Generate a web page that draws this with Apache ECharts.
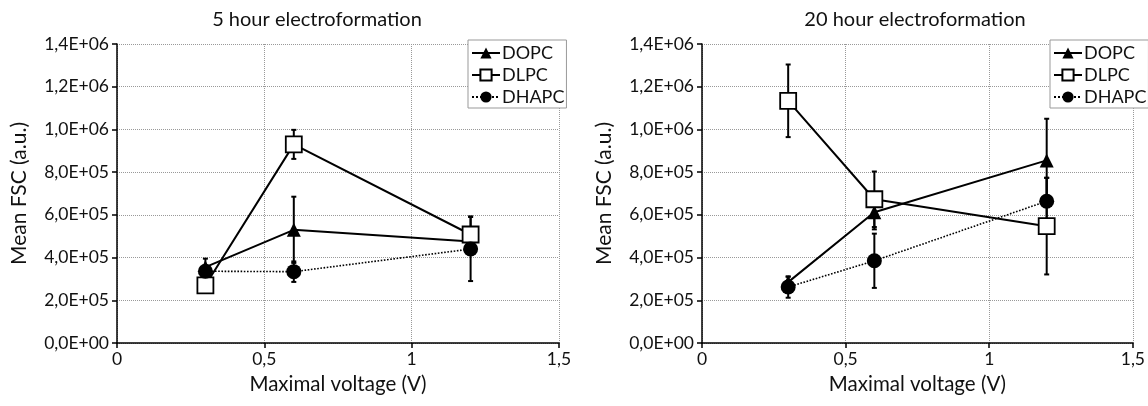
<!DOCTYPE html>
<html>
<head>
<meta charset="utf-8">
<script src="https://cdn.jsdelivr.net/npm/echarts@6/dist/echarts.min.js"></script>
<style>html,body{margin:0;padding:0;background:#fff}#c{width:1148px;height:406px}</style>
</head>
<body>
<div id="c"></div>
<script>
// ---- data ----
const voltages = [0.3, 0.6, 1.2];
const seriesNames = ['DOPC', 'DLPC', 'DHAPC'];
const panelTitles = ['5 hour electroformation', '20 hour electroformation'];
const xTicks = [0, 0.5, 1, 1.5];
const yTicks = [0, 200000, 400000, 600000, 800000, 1000000, 1200000, 1400000];

// 5 hour electroformation
const dopc5 = [355000, 530000, 475000];
const dopc5Err = [40000, 155000, 0];
const dlpc5 = [270000, 930000, 508000];
const dlpc5Err = [15000, 68000, 85000];
const dhapc5 = [336000, 334000, 440000];
const dhapc5Err = [20000, 48000, 150000];

// 20 hour electroformation
const dopc20 = [285000, 612000, 855000];
const dopc20Err = [25000, 80000, 195000];
const dlpc20 = [1134000, 673000, 547000];
const dlpc20Err = [170000, 130000, 226000];
const dhapc20 = [262000, 385000, 664000];
const dhapc20Err = [50000, 127000, 110000];

const panels = [
  [dopc5, dlpc5, dhapc5],
  [dopc20, dlpc20, dhapc20]
];
const panelErrs = [
  [dopc5Err, dlpc5Err, dhapc5Err],
  [dopc20Err, dlpc20Err, dhapc20Err]
];

// ---- styling ----
const FONT = 'Lato';
const TXT = '#111';
const styles = [
  {symbol: 'triangle', symbolSize: 14, itemStyle: {color: '#000'}, lineStyle: {color: '#000', width: 2, type: 'solid'}},
  {symbol: 'rect', symbolSize: 16, itemStyle: {color: '#fff', borderColor: '#000', borderWidth: 1.8}, lineStyle: {color: '#000', width: 2, type: 'solid'}},
  {symbol: 'circle', symbolSize: 15, itemStyle: {color: '#000'}, lineStyle: {color: '#000', width: 1.6, type: 'dotted'}}
];

function yFmt(v) {
  if (v === 0) return '0,0E+00';
  const e = Math.floor(Math.log10(v) + 1e-9);
  const m = v / Math.pow(10, e);
  return m.toFixed(1).replace('.', ',') + 'E+' + String(e).padStart(2, '0');
}
function xFmt(v) { return String(v).replace('.', ','); }

const grids = [
  {left: 117, right: 589, top: 44, bottom: 63},
  {left: 702, right: 13, top: 44, bottom: 63}
];
const titleCenters = [312, 910];
const legendLefts = [468, 1050];

const option = {
  animation: false,
  backgroundColor: '#fff',
  textStyle: {fontFamily: FONT},
  title: panelTitles.map((t, i) => ({
    text: t, left: titleCenters[i], top: 5, textAlign: 'center',
    textStyle: {fontFamily: FONT, fontSize: 20, fontWeight: 'normal', color: TXT}
  })),
  grid: grids,
  legend: legendLefts.map((l, i) => ({
    left: l, top: 40, orient: 'vertical', itemGap: 4, itemWidth: 28, itemHeight: 14,
    padding: [4, 2, 2, 3], borderColor: '#999', borderWidth: 1, backgroundColor: '#fff',
    textStyle: {fontFamily: FONT, fontSize: 18, color: TXT, padding: [0, 0, 0, -3]},
    data: seriesNames, z: 20
  })),
  xAxis: grids.map((g, i) => ({
    type: 'value', gridIndex: i, min: xTicks[0], max: xTicks[xTicks.length - 1], interval: 0.5,
    name: 'Maximal voltage (V)', nameLocation: 'middle', nameGap: 31,
    nameTextStyle: {fontFamily: FONT, fontSize: 20.5, color: TXT},
    axisLine: {lineStyle: {color: '#000', width: 1.5}},
    axisTick: {show: true, length: 5, lineStyle: {color: '#000', width: 1.5}},
    axisLabel: {formatter: xFmt, fontFamily: FONT, fontSize: 17.5, color: TXT, margin: 7},
    splitLine: {show: true, lineStyle: {color: '#999', type: 'dotted', width: 1}}
  })),
  yAxis: grids.map((g, i) => ({
    type: 'value', gridIndex: i, min: yTicks[0], max: yTicks[yTicks.length - 1], interval: 200000,
    name: 'Mean FSC (a.u.)', nameLocation: 'middle', nameGap: 87, nameRotate: 90,
    nameTextStyle: {fontFamily: FONT, fontSize: 21, color: TXT},
    axisLine: {show: true, lineStyle: {color: '#000', width: 1.5}},
    axisTick: {show: true, length: 5, lineStyle: {color: '#000', width: 1.5}},
    axisLabel: {formatter: yFmt, fontFamily: FONT, fontSize: 17.5, color: TXT, margin: 8},
    splitLine: {show: true, lineStyle: {color: '#999', type: 'dotted', width: 1}}
  })),
  series: []
};

panels.forEach((vals, p) => {
  vals.forEach((arr, s) => {
    const errs = panelErrs[p][s];
    option.series.push({
      type: 'custom', name: seriesNames[s] + ' error', xAxisIndex: p, yAxisIndex: p, z: 3,
      encode: {x: 0, y: 1},
      itemStyle: {color: '#000'},
      data: voltages.map((v, k) => [v, arr[k], errs[k]]),
      renderItem: function (params, api) {
        const x = api.value(0), y = api.value(1), e = api.value(2);
        if (!e) return null;
        const hi = api.coord([x, y + e]);
        const lo = api.coord([x, y - e]);
        const w = 2.5;
        const st = {stroke: '#000', lineWidth: 2};
        return {type: 'group', children: [
          {type: 'line', shape: {x1: hi[0], y1: hi[1], x2: lo[0], y2: lo[1]}, style: st},
          {type: 'line', shape: {x1: hi[0] - w, y1: hi[1], x2: hi[0] + w, y2: hi[1]}, style: st},
          {type: 'line', shape: {x1: lo[0] - w, y1: lo[1], x2: lo[0] + w, y2: lo[1]}, style: st}
        ]};
      },
      silent: true
    });
  });
  vals.forEach((arr, s) => {
    option.series.push(Object.assign({
      type: 'line', name: seriesNames[s], xAxisIndex: p, yAxisIndex: p, z: 5,
      data: voltages.map((v, k) => [v, arr[k]]),
      showSymbol: true
    }, styles[s]));
  });
});

const chart = echarts.init(document.getElementById('c'), null, {renderer: 'canvas'});
chart.setOption(option);
</script>
</body>
</html>
